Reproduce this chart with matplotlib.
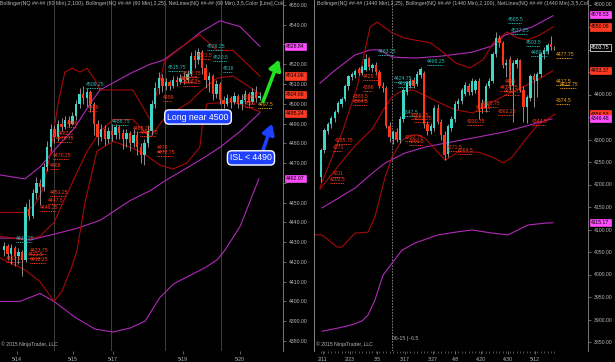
import matplotlib
matplotlib.use('Agg')
import matplotlib.pyplot as plt
import matplotlib.transforms as mtransforms
import numpy as np

plt.rcParams['font.family'] = ['Liberation Sans', 'DejaVu Sans']

# ---------------- LEFT PANEL (60 min) ----------------
l_open = [4426, 4428, 4424, 4427, 4423, 4425, 4421, 4447, 4443, 4455, 4460, 4458, 4468, 4478, 4487, 4483,
          4490, 4488, 4492, 4490, 4494, 4500, 4505, 4503, 4506, 4500, 4490, 4483, 4487, 4482, 4486, 4484,
          4488, 4485, 4482, 4485, 4480, 4484, 4478, 4474, 4480, 4486, 4500, 4508, 4513, 4509, 4511, 4509,
          4512, 4511, 4513, 4512, 4515, 4524, 4522, 4526, 4518, 4512, 4514, 4505, 4510, 4502, 4500, 4503,
          4501, 4504, 4500, 4502, 4505, 4501, 4506, 4503]
l_high = [4430, 4429, 4429, 4428, 4427, 4426, 4450, 4452, 4457, 4463, 4462, 4470, 4481, 4490, 4489, 4492,
          4493, 4494, 4494, 4496, 4502, 4508, 4509, 4508, 4507, 4501, 4492, 4490, 4489, 4488, 4490, 4490,
          4489, 4487, 4487, 4486, 4487, 4486, 4480, 4482, 4489, 4502, 4511, 4516, 4515, 4513, 4512, 4514,
          4514, 4515, 4516, 4517, 4526, 4527, 4528, 4527, 4520, 4516, 4515, 4512, 4511, 4504, 4505, 4504,
          4506, 4505, 4505, 4507, 4506, 4508, 4509, 4506]
l_low = [4423, 4421, 4419, 4418, 4419, 4413, 4420, 4441, 4442, 4452, 4449, 4456, 4466, 4476, 4480, 4481,
         4486, 4487, 4488, 4489, 4492, 4498, 4500, 4499, 4496, 4484, 4479, 4481, 4479, 4480, 4481, 4482,
         4482, 4477, 4478, 4476, 4478, 4474, 4470, 4469, 4478, 4484, 4498, 4505, 4506, 4507, 4507, 4508,
         4509, 4510, 4510, 4511, 4514, 4518, 4520, 4515, 4508, 4506, 4502, 4503, 4500, 4498, 4499, 4498,
         4500, 4498, 4497, 4500, 4499, 4500, 4501, 4502]
l_close = [4428, 4424, 4427, 4423, 4425, 4421, 4448, 4443, 4455, 4460, 4458, 4468, 4478, 4487, 4483, 4490,
           4488, 4492, 4490, 4494, 4500, 4505, 4503, 4506, 4500, 4490, 4483, 4487, 4482, 4486, 4484, 4488,
           4485, 4482, 4485, 4480, 4484, 4478, 4474, 4480, 4486, 4500, 4508, 4513, 4509, 4511, 4509, 4512,
           4511, 4513, 4512, 4515, 4524, 4522, 4526, 4518, 4512, 4514, 4505, 4510, 4502, 4500, 4503, 4501,
           4504, 4500, 4502, 4505, 4501, 4506, 4503, 4504]

l_date_pos = [3.6, 19.2, 30.3, 49.7, 65.6]
l_date_lbl = ['5/14', '5/15', '5/17', '5/19', '5/20']
l_session_pos = [13.9, 29.7, 44.7, 60.3]
l_yticks = list(range(4380, 4551, 10))

# Bollinger(2,100) magenta
l_mag_up_x = [-1.1, 2.2, 5.8, 10, 14.2, 19.7, 23.9, 26.7, 35.8, 40.6, 44.2, 50.3, 54.4, 60, 65.6, 71.1]
l_mag_up_y = [4464, 4463, 4462, 4468, 4477, 4488, 4500, 4507, 4516, 4520, 4522, 4530, 4536, 4542, 4539, 4529]
l_mag_mid_x = [-1.1, 4.4, 7.2, 13.9, 20.3, 26.7, 35, 40.6, 44.7, 50.3, 55.8, 60, 65.6, 71.1]
l_mag_mid_y = [4432, 4432, 4431, 4434, 4437, 4441, 4451, 4456, 4461, 4467, 4473, 4478, 4486, 4495.5]
l_mag_lo_x = [-1.1, 4.4, 8.6, 10, 13.9, 19.7, 25.3, 30.3, 35, 39.2, 43.3, 47.2, 55.8, 59.2, 61.4, 65.6, 70.8]
l_mag_lo_y = [4400, 4400, 4403, 4404, 4400, 4392, 4386, 4384.5, 4386.5, 4390, 4402, 4409, 4417, 4421, 4426, 4438, 4462]
# Bollinger(2,25) red
l_red_up_x = [-1.1, 5.8, 8.6, 10.6, 12.8, 15, 16.9, 18.9, 21.1, 23.1, 25.3, 26.7, 35.8, 40.6, 44.7, 51.7, 54.4, 59.2, 63.6, 71.1]
l_red_up_y = [4445, 4445, 4449, 4456, 4474, 4500, 4516, 4518, 4516, 4518, 4512, 4507, 4507, 4492, 4522, 4532, 4535, 4527, 4527, 4514]
l_red_mid_x = [-1.1, 5.8, 10, 13.9, 16.9, 19.7, 23.1, 26.7, 30.3, 35.8, 40.6, 44.7, 51.7, 54.4, 59.2, 63.6, 71.1]
l_red_mid_y = [4433, 4431, 4433, 4440, 4452, 4463, 4476, 4486, 4492, 4492, 4483, 4493, 4501, 4506, 4513, 4514, 4505]
l_red_lo_x = [-1.1, 5.8, 10, 13.9, 16.1, 18.9, 20.3, 22.5, 25.8, 30.3, 35, 38.6, 43.3, 46.9, 50.8, 54.4, 55.3, 56.4, 63.6, 71.1]
l_red_lo_y = [4422, 4416, 4410, 4400, 4405, 4418, 4426, 4450, 4476, 4481, 4478, 4475, 4469, 4467, 4470, 4478, 4492, 4500, 4501, 4496]

# NetLines labels (text, x, price, colour key)
l_labels = [
    ("4509.25", 22.8, 4508.5, 'c'), ("4515.75", 45.6, 4517.1, 'c'), ("4526.25", 56.4, 4527.8, 'c'),
    ("4520.5", 58.1, 4522.2, 'c'), ("4516", 60.8, 4516.6, 'c'), ("4521.5", 53.6, 4523.2, 'r'),
    ("4512.75", 49.7, 4514.1, 'r'), ("4510.25", 48.9, 4511.6, 'r'), ("4506.25", 49.7, 4509.5, 'r'),
    ("4499", 44.2, 4502.0, 'r'), ("4486", 23.3, 4496.9, 'r'), ("4488", 17.5, 4488.8, 'r'),
    ("4482.5", 15.0, 4483.7, 'r'), ("4479.75", 14.4, 4481.2, 'r'), ("4470.25", 13.6, 4472.6, 'r'),
    ("4468", 12.8, 4467.5, 'r'), ("4451.25", 12.8, 4453.9, 'r'), ("4447.5", 12.2, 4449.8, 'r'),
    ("4446.25", 10.0, 4446.3, 'r'), ("4431.25", 3.3, 4430.6, 'c'), ("4423.75", 7.2, 4424.5, 'r'),
    ("4421.5", 6.7, 4422.5, 'r'), ("4419.25", 0.6, 4420.5, 'r'), ("4418.25", 7.2, 4420.0, 'r'),
    ("4488.75", 30.0, 4489.8, 'c'), ("4485.25", 35.8, 4486.3, 'r'), ("4482.75", 37.8, 4484.2, 'r'),
    ("4476", 42.5, 4476.6, 'r'), ("4472.75", 42.5, 4474.1, 'r'), ("4505", 66.4, 4502.0, 'r'),
    ("4501", 66.9, 4498.9, 'r'), ("4497.5", 70.6, 4498.4, 'o'),
]
l_badges = [(4528.84, 'm'), (4514.06, 'r'), (4504.66, 'r'), (4495.24, 'r'), (4462.07, 'm')]
l_header = ("Bollinger(NQ ##-## (60 Min),2,100), Bollinger(NQ ##-## (60 Min),2,25), "
            "NetLines(NQ ##-## (60 Min),3,5,Color [Line],Colo")

# ---------------- RIGHT PANEL (daily) ----------------
r_open = [4217, 4277, 4320, 4335, 4348, 4362, 4380, 4390, 4418, 4440, 4443, 4456, 4448, 4455, 4480, 4458,
          4466, 4450, 4420, 4414, 4330, 4302, 4316, 4300, 4346, 4405, 4420, 4432, 4424, 4444, 4448, 4335,
          4318, 4326, 4370, 4340, 4310, 4268, 4326, 4345, 4378, 4386, 4402, 4420, 4405, 4410, 4430, 4380,
          4370, 4420, 4430, 4490, 4525, 4515, 4466, 4478, 4420, 4468, 4476, 4410, 4372, 4392, 4440, 4430,
          4445, 4490, 4496, 4512, 4504]
r_high = [4282, 4325, 4340, 4352, 4365, 4385, 4395, 4424, 4444, 4450, 4456, 4462, 4466, 4490, 4484, 4470,
          4472, 4455, 4428, 4418, 4340, 4322, 4326, 4352, 4414, 4430, 4436, 4440, 4452, 4462, 4452, 4342,
          4336, 4376, 4380, 4346, 4318, 4334, 4352, 4386, 4392, 4414, 4428, 4426, 4436, 4434, 4436, 4390,
          4425, 4436, 4495, 4540, 4532, 4520, 4480, 4485, 4476, 4482, 4480, 4418, 4400, 4446, 4448, 4450,
          4495, 4505, 4515, 4530, 4508]
r_low = [4205, 4270, 4312, 4325, 4340, 4358, 4372, 4386, 4410, 4432, 4436, 4444, 4443, 4452, 4455, 4450,
         4445, 4415, 4405, 4325, 4295, 4290, 4294, 4292, 4340, 4398, 4414, 4414, 4418, 4436, 4326, 4310,
         4312, 4320, 4335, 4300, 4255, 4262, 4318, 4338, 4368, 4380, 4396, 4398, 4400, 4404, 4345, 4360,
         4362, 4414, 4426, 4484, 4505, 4460, 4440, 4410, 4340, 4460, 4405, 4340, 4337, 4385, 4372, 4395,
         4440, 4480, 4490, 4500, 4498]
r_close = [4277, 4320, 4335, 4348, 4360, 4381, 4390, 4420, 4440, 4445, 4452, 4448, 4462, 4480, 4462, 4466,
           4450, 4420, 4414, 4330, 4305, 4316, 4300, 4346, 4410, 4425, 4430, 4420, 4446, 4456, 4335, 4320,
           4330, 4370, 4340, 4310, 4265, 4330, 4345, 4380, 4386, 4410, 4420, 4405, 4430, 4430, 4365, 4368,
           4420, 4430, 4490, 4525, 4515, 4465, 4470, 4420, 4470, 4476, 4410, 4372, 4395, 4440, 4432, 4445,
           4490, 4500, 4510, 4505, 4503.75]

r_date_pos = [0.6, 8.5, 16.3, 24.5, 32.7, 39.1, 46.6, 54.5, 62.4]
r_date_lbl = ['2/11', '2/23', '3/5', '3/17', '3/27', '4/8', '4/20', '4/30', '5/12']
r_rollover_pos = 20.7
r_yticks = list(range(3850, 4601, 50))

r_mag_up_x = [-0.3, 4.1, 9.9, 14.3, 17.2, 20.7, 27.4, 34.7, 44.0, 49.9, 53.6, 61.5, 67.6]
r_mag_up_y = [4425, 4454, 4488, 4499, 4499, 4483, 4481, 4485, 4494, 4508, 4532, 4550, 4575]
r_mag_mid_x = [0.3, 9.9, 14.9, 18.7, 24.5, 30.3, 36.2, 44.0, 53.6, 63.1, 67.3]
r_mag_mid_y = [4148, 4192, 4225, 4248, 4270, 4283, 4292, 4303, 4317, 4337, 4346]
r_mag_lo_x = [0.3, 5.0, 9.0, 12.0, 13.7, 15.7, 18.1, 20.7, 23.6, 27.4, 34.1, 39.1, 44.0, 49.9, 54.5, 57.4, 60.3, 65.2, 67.6]
r_mag_lo_y = [3874, 3881, 3888, 3897, 3910, 3943, 3999, 4025, 4054, 4070, 4088, 4094, 4099, 4092, 4088, 4099, 4110, 4114, 4115]
r_red_up_x = [-0.3, 6.4, 10.5, 14.3, 16.3, 20.7, 24.5, 31.8, 34.7, 39.3, 43.4, 47.2, 50.1, 54.2, 57.1, 60.1, 63.7, 67.6]
r_red_up_y = [4194, 4321, 4416, 4550, 4561, 4537, 4525, 4515, 4499, 4470, 4459, 4477, 4514, 4539, 4526, 4521, 4532, 4550]
r_red_mid_x = [-0.3, 6.1, 9.9, 14.9, 18.1, 20.7, 23.6, 26.8, 30.3, 34.7, 39.1, 44.3, 49.3, 53.6, 58.9, 63.7, 67.6]
r_red_mid_y = [4190, 4251, 4286, 4323, 4365, 4395, 4408, 4410, 4398, 4381, 4366, 4359, 4381, 4398, 4417, 4435, 4453]
r_red_lo_x = [-2.0, 0.3, 4.7, 6.1, 9.9, 13.7, 15.7, 18.7, 20.7, 23.6, 26.5, 28.3, 30.3, 36.2, 39.9, 45.8, 49.9, 53.1, 55.7, 59.5, 63.1, 65.9, 68.2]
r_red_lo_y = [4088, 4088, 4061, 4061, 4092, 4094, 4128, 4217, 4261, 4299, 4310, 4310, 4303, 4254, 4272, 4272, 4261, 4248, 4261, 4299, 4332, 4345, 4356.5]

r_labels = [
    ("4565.5", 54.5, 4561, 'c'), ("4537.25", 55.4, 4536.6, 'c'), ("4503.5", 59.8, 4510, 'c'),
    ("4489.25", 61.2, 4487.7, 'c'), ("4483.25", 16.6, 4490, 'c'), ("4488.25", 30.9, 4467.7, 'c'),
    ("4424.75", 21.3, 4430, 'c'), ("4415.25", 22.4, 4418.8, 'c'), ("4347.5", 23.9, 4354.4, 'c'),
    ("4429.75", 12.2, 4434.4, 'r'), ("4396", 12.2, 4410, 'r'), ("4383.5", 9.3, 4390, 'r'),
    ("4364.5", 9.3, 4378.8, 'r'), ("4285.75", 4.1, 4292.2, 'r'), ("4271", 3.5, 4276.6, 'r'),
    ("4211", 3.5, 4218.9, 'r'), ("4201.5", 2.6, 4205.5, 'r'), ("4366.75", 26.2, 4347.7, 'r'),
    ("4352.75", 27.1, 4341, 'r'), ("4292.75", 24.5, 4298.8, 'r'), ("4291.5", 25.7, 4290, 'r'),
    ("4271.5", 36.7, 4276.6, 'r'), ("4264.5", 39.9, 4270, 'r'), ("4330.75", 42.6, 4334.4, 'r'),
    ("4365.75", 46.9, 4374.4, 'r'), ("4360.5", 45.2, 4365.5, 'r'), ("4362.25", 51.6, 4356.6, 'r'),
    ("4419", 53.6, 4423.3, 'r'), ("4414.75", 52.2, 4410, 'r'), ("4413.75", 53.4, 4401, 'r'),
    ("4344.5", 61.5, 4334.4, 'r'), ("4477.75", 68.5, 4483, 'o'), ("4417.5", 68.5, 4423.3, 'o'),
    ("4412.75", 69.7, 4416.6, 'o'), ("4374.5", 68.5, 4381, 'o'),
]
r_badges = [(4578.53, 'm'), (4550.06, 'r'), (4503.75, 'k'), (4453.37, 'r'), (4356.53, 'r'),
            (4346.48, 'm'), (4115.17, 'm')]
r_header = ("Bollinger(NQ ##-## (1440 Min),2,25), Bollinger(NQ ##-## (1440 Min),2,100), "
            "NetLines(NQ ##-## (1440 Min),3,5,Color")

# ---------------- STYLE ----------------
BG = 'black'
CYAN = '#3ed6c8'
RED = '#ff3418'
WICK = '#a4a4a4'
MAG = '#b02ab8'
DRED = '#a80808'
TXT = '#b8b8b8'
LBL = {'c': '#2fb8b0', 'r': '#ff3a1a', 'o': '#f0a020'}
BADGE = {'m': ('#ff4cff', 'black', '#ff4cff'), 'r': ('#ff3a22', 'black', '#ff3a22'),
         'k': ('black', 'white', 'white')}
FS = 3.7
HFS = 3.75

fig = plt.figure(figsize=(6.15, 3.62), dpi=100, facecolor=BG)
axL = fig.add_axes([0.0, 11 / 362, 283 / 615, 351 / 362])
axR = fig.add_axes([314 / 615, 11 / 362, 274 / 615, 351 / 362])


def style_axis(ax, yticks, xpos, xlbl):
    ax.set_facecolor(BG)
    for s in ['top', 'left', 'bottom']:
        ax.spines[s].set_visible(False)
    ax.spines['right'].set_color('#8a8a8a')
    ax.spines['right'].set_linewidth(0.6)
    ax.yaxis.tick_right()
    ax.set_yticks(yticks)
    ax.set_yticklabels([f'{v:.2f}' for v in yticks])
    ax.tick_params(axis='y', colors='#8a8a8a', labelcolor=TXT, labelsize=FS, length=2, width=0.5, pad=2)
    ax.set_xticks(xpos)
    ax.set_xticklabels(xlbl)
    ax.tick_params(axis='x', colors='#8a8a8a', labelcolor=TXT, labelsize=FS, length=2, width=0.5, pad=2)


def candles(ax, o, h, l, c, width):
    o, h, l, c = map(np.asarray, (o, h, l, c))
    x = np.arange(len(o))
    cols = np.where(c >= o, CYAN, RED)
    ax.vlines(x, l, h, color=WICK, lw=0.6, zorder=3)
    bot = np.minimum(o, c)
    hgt = np.maximum(np.abs(c - o), 0.6)
    ax.bar(x, hgt, width, bottom=bot, color=cols, lw=0, zorder=4)


def netlabels(ax, items, char_w, dy):
    for txt, x, p, k in items:
        col = LBL[k]
        ax.text(x, p, txt, fontsize=FS, color=col, va='bottom', ha='left', zorder=6, clip_on=True)
        ax.plot([x, x + char_w * len(txt)], [p - dy, p - dy], color=col, lw=0.7,
                linestyle=(0, (1, 0.8)), zorder=6)


def badges(ax, items, hide_tol):
    tr = mtransforms.blended_transform_factory(ax.transAxes, ax.transData)
    for p, k in items:
        fc, tc, ec = BADGE[k]
        ax.text(1.012, p, f'{p:.2f}', transform=tr, fontsize=FS, color=tc, va='center', ha='left',
                bbox=dict(boxstyle='square,pad=0.22', fc=fc, ec=ec, lw=0.5), clip_on=False, zorder=10)
    # badges sit on top of the price scale: the tick labels under them are covered
    prices = [p for p, _ in items]
    for t, lab in zip(ax.get_yticks(), ax.get_yticklabels()):
        if any(abs(t - p) < hide_tol for p in prices):
            lab.set_visible(False)


# ---- left panel
style_axis(axL, l_yticks, l_date_pos, l_date_lbl)
axL.set_xlim(-1.11, 77.5)
axL.set_ylim(4374.9, 4552.5)
for xp in l_session_pos:
    axL.axvline(xp, color='#4a4a4a', lw=0.6, zorder=1)
axL.plot(l_mag_up_x, l_mag_up_y, color=MAG, lw=0.8, zorder=2)
axL.plot(l_mag_mid_x, l_mag_mid_y, color=MAG, lw=0.8, zorder=2)
axL.plot(l_mag_lo_x, l_mag_lo_y, color=MAG, lw=0.8, zorder=2)
axL.plot(l_red_up_x, l_red_up_y, color=DRED, lw=0.8, zorder=2)
axL.plot(l_red_mid_x, l_red_mid_y, color=DRED, lw=0.8, zorder=2)
axL.plot(l_red_lo_x, l_red_lo_y, color=DRED, lw=0.8, zorder=2)
candles(axL, l_open, l_high, l_low, l_close, 0.62)
netlabels(axL, l_labels, 0.62, 0.4)
badges(axL, l_badges, 3.2)
axL.text(0.0, 0.997, l_header, transform=axL.transAxes,
         fontsize=HFS, color=TXT, va='top', ha='left', clip_on=True)
axL.text(0.003, 0.012, "© 2015 NinjaTrader, LLC", transform=axL.transAxes, fontsize=FS,
         color=TXT, va='bottom', ha='left')

# annotations
axL.annotate('', xy=(76.7, 4523.7), xytext=(71.7, 4499.9),
             arrowprops=dict(arrowstyle='-|>,head_length=0.6,head_width=0.35', color='#22e022', lw=2.6),
             zorder=12)
axL.annotate('', xy=(74.7, 4491.3), xytext=(71.7, 4475.0),
             arrowprops=dict(arrowstyle='-|>,head_length=0.6,head_width=0.35', color='#1e40ff', lw=2.6),
             zorder=12)
axL.text(53.9, 4493.3, 'Long near 4500', fontsize=6.3, color='white', ha='center', va='center',
         zorder=13, bbox=dict(boxstyle='round,pad=0.3,rounding_size=0.5', fc='#1e40ff', ec='white', lw=1.0))
axL.text(68.6, 4472.6, 'ISL < 4490', fontsize=6.3, color='white', ha='center', va='center',
         zorder=13, bbox=dict(boxstyle='round,pad=0.3,rounding_size=0.5', fc='#1e40ff', ec='white', lw=1.0))

# ---- right panel
style_axis(axR, r_yticks, r_date_pos, r_date_lbl)
axR.set_xlim(-2.04, 77.8)
axR.set_ylim(3830, 4610)
axR.spines['left'].set_visible(True)
axR.spines['left'].set_color('#9a9a9a')
axR.spines['left'].set_linewidth(0.6)
axR.set_xticks(np.arange(0, 69, 1), minor=True)
axR.tick_params(axis='x', which='minor', colors='#8a8a8a', length=1.5, width=0.4)
axR.axvline(r_rollover_pos, color='#8c8c8c', lw=0.6, ls=(0, (2, 1.5)), zorder=1)
axR.plot(r_mag_up_x, r_mag_up_y, color=MAG, lw=0.8, zorder=2)
axR.plot(r_mag_mid_x, r_mag_mid_y, color=MAG, lw=0.8, zorder=2)
axR.plot(r_mag_lo_x, r_mag_lo_y, color=MAG, lw=0.8, zorder=2)
axR.plot(r_red_up_x, r_red_up_y, color=DRED, lw=0.8, zorder=2)
axR.plot(r_red_mid_x, r_red_mid_y, color=DRED, lw=0.8, zorder=2)
axR.plot(r_red_lo_x, r_red_lo_y, color=DRED, lw=0.8, zorder=2)
candles(axR, r_open, r_high, r_low, r_close, 0.68)
netlabels(axR, r_labels, 0.66, 1.8)
badges(axR, r_badges, 10)
axR.text(0.01, 0.997, r_header, transform=axR.transAxes,
         fontsize=HFS, color=TXT, va='top', ha='left', clip_on=True)
axR.text(0.008, 0.012, "© 2015 NinjaTrader, LLC", transform=axR.transAxes, fontsize=FS,
         color=TXT, va='bottom', ha='left')
axR.text(r_rollover_pos, 3853, "06-15 | -6.5", fontsize=FS, color=TXT, ha='left', va='bottom')

fig.savefig('out.png', dpi=100, facecolor=BG)
